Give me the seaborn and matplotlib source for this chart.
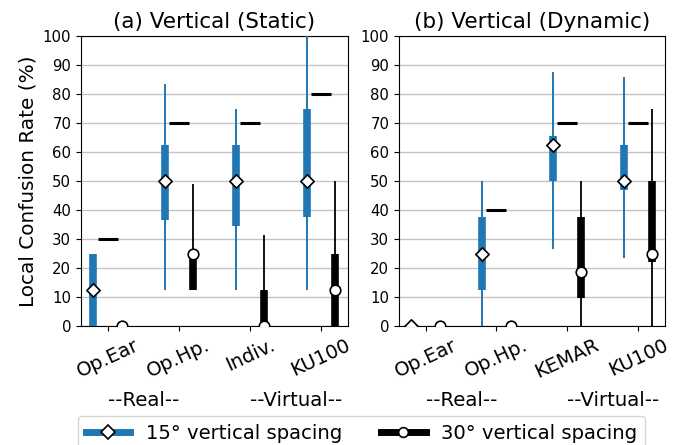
import numpy as np
import matplotlib
matplotlib.use("Agg")
import matplotlib.pyplot as plt
import matplotlib.transforms as mtransforms
from matplotlib.lines import Line2D
import seaborn as sns

plt.rcParams['font.family'] = ['DejaVu Sans']

# ---------------- data ----------------
cats_static = ["Op.Ear", "Op.Hp.", "Indiv.", "KU100"]
cats_dynamic = ["Op.Ear", "Op.Hp.", "KEMAR", "KU100"]

# (a) static, 15 deg
s15_med = [12.5, 50, 50, 50]
s15_q1 = [0, 36.5, 34.5, 37.5]
s15_q3 = [25, 62.5, 62.5, 75]
s15_lo = [0, 12.5, 12.5, 12.5]
s15_hi = [25, 83.3, 75, 100]
# (a) static, 30 deg
s30_med = [0, 25, 0, 12.5]
s30_q1 = [0, 12.5, 0, 0]
s30_q3 = [0, 26, 12.5, 25]
s30_lo = [0, 12.5, 0, 0]
s30_hi = [0, 49, 31.3, 50]
# (a) reference level
s_ref = [30, 70, 70, 80]

# (b) dynamic, 15 deg
d15_med = [0, 25, 62.5, 50]
d15_q1 = [0, 12.5, 50, 47]
d15_q3 = [0, 37.5, 65.5, 62.5]
d15_lo = [0, 0, 26.5, 23.5]
d15_hi = [0, 50, 87.5, 86]
# (b) dynamic, 30 deg
d30_med = [0, 0, 18.75, 25]
d30_q1 = [0, 0, 9.5, 22]
d30_q3 = [0, 0, 37.5, 50]
d30_lo = [0, 0, 0, 0]
d30_hi = [0, 0, 50, 75]
# (b) reference level
d_ref = [np.nan, 40, 70, 70]

titles = ["(a) Vertical (Static)", "(b) Vertical (Dynamic)"]
group_labels = ["--Real--", "--Virtual--"]
legend_labels = ["15° vertical spacing", "30° vertical spacing"]
ylabel = "Local Confusion Rate (%)"

BLUE = "#1f77b4"
OFF = 0.2


def draw(ax, cats, a, b, ref, title):
    x = np.arange(len(cats))
    # 15 deg (blue)
    ax.vlines(x - OFF, a[3], a[4], color=BLUE, lw=1.4, zorder=3)
    ax.vlines(x - OFF, a[1], a[2], color=BLUE, lw=5.5, zorder=4)
    # 30 deg (black)
    ax.vlines(x + OFF, b[3], b[4], color="black", lw=1.3, zorder=3)
    ax.vlines(x + OFF, b[1], b[2], color="black", lw=5.5, zorder=4)
    # reference dashes
    ax.hlines(ref, x - 0.14, x + 0.14, color="black", lw=2.2, zorder=3)
    # medians
    sns.scatterplot(x=x - OFF, y=a[0], marker="D", s=46, color="white",
                    edgecolor="black", linewidth=1.2, zorder=6, ax=ax,
                    legend=False)
    sns.scatterplot(x=x + OFF, y=b[0], marker="o", s=58, color="white",
                    edgecolor="black", linewidth=1.2, zorder=6, ax=ax,
                    legend=False)
    ax.set_xlim(-0.375, 3.38)
    ax.set_ylim(0, 100)
    ax.set_yticks(np.arange(0, 101, 10))
    ax.set_xticks(x)
    ax.set_xticklabels(cats, rotation=25, fontsize=14)
    ax.tick_params(axis="y", labelsize=10.7)
    ax.yaxis.grid(True, color="#c4c4c4", lw=1.0)
    ax.set_axisbelow(True)
    ax.set_title(title, fontsize=15.5)
    trans = mtransforms.blended_transform_factory(ax.transData, ax.transAxes)
    ax.text(0, -0.276, group_labels[0], transform=trans, ha="left",
            va="baseline", fontsize=14.2)
    ax.text(2, -0.276, group_labels[1], transform=trans, ha="left",
            va="baseline", fontsize=14.2)
    for sp in ax.spines.values():
        sp.set_color("black")


fig = plt.figure(figsize=(6.83, 4.45), dpi=100)
W, H = 683, 445
ax1 = fig.add_axes([81 / W, 1 - 326 / H, (348 - 81) / W, (326 - 36) / H])
ax2 = fig.add_axes([399 / W, 1 - 326 / H, (665 - 399) / W, (326 - 36) / H])

draw(ax1, cats_static,
     [s15_med, s15_q1, s15_q3, s15_lo, s15_hi],
     [s30_med, s30_q1, s30_q3, s30_lo, s30_hi], s_ref, titles[0])
draw(ax2, cats_dynamic,
     [d15_med, d15_q1, d15_q3, d15_lo, d15_hi],
     [d30_med, d30_q1, d30_q3, d30_lo, d30_hi], d_ref, titles[1])
ax1.set_ylabel(ylabel, fontsize=14.4)

handles = [
    Line2D([], [], color=BLUE, lw=5, marker="D", ms=7, mfc="white",
           mec="black", mew=1.2),
    Line2D([], [], color="black", lw=5, marker="o", ms=7, mfc="white",
           mec="black", mew=1.2),
]
fig.legend(handles, legend_labels, loc="upper left",
           bbox_to_anchor=(78 / W, 1 - 416 / H), ncol=2, fontsize=14.15,
           handlelength=2.25, borderaxespad=0, columnspacing=2.0)

fig.savefig("out.png", dpi=100)
